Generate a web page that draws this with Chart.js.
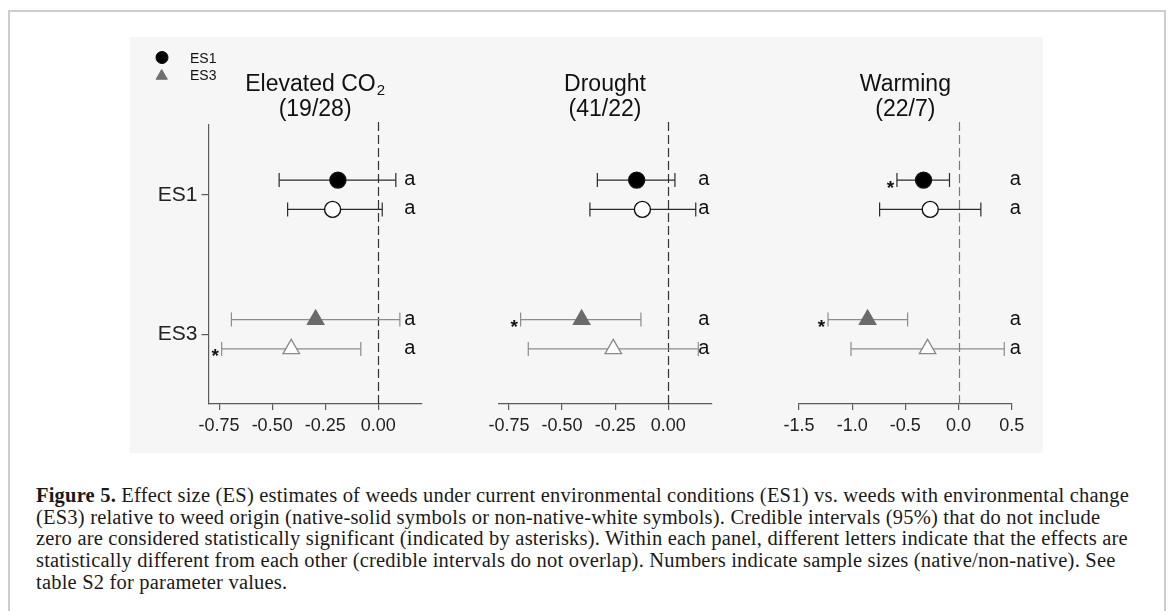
<!DOCTYPE html>
<html>
<head>
<meta charset="utf-8">
<title>Figure 5</title>
<script src="https://cdn.jsdelivr.net/npm/chart.js@4.4.0/dist/chart.umd.min.js"></script>
<style>
  html, body { margin: 0; padding: 0; background: #fff; }
  body { width: 1168px; height: 611px; position: relative; overflow: hidden; }
  #frame { position: absolute; left: 8px; top: 10px; width: 1154px; height: 640px; border: 2px solid #cdcdcd; border-bottom: none; }
  #figure { position: absolute; left: 130px; top: 37px; width: 913px; height: 416px; background: #f6f6f6; }
  canvas.panel { position: absolute; top: 37px; }
  #caption { position: absolute; left: 36px; top: 485px; font-family: 'Liberation Serif', 'Times New Roman', serif; font-size: 20.5px; letter-spacing: 0.2px; color: #1a1a1a; line-height: 21.7px; }
  #caption div { white-space: nowrap; }
</style>
</head>
<body>
<div id="frame"></div>
<div id="figure"></div>
<canvas id="p0" class="panel" width="310" height="416" style="left:130px;width:310px;height:416px"></canvas>
<canvas id="p1" class="panel" width="300" height="416" style="left:440px;width:300px;height:416px"></canvas>
<canvas id="p2" class="panel" width="303" height="416" style="left:740px;width:303px;height:416px"></canvas>
<div id="caption">
  <div><b>Figure 5.</b> Effect size (ES) estimates of weeds under current environmental conditions (ES1) vs. weeds with environmental change</div>
  <div>(ES3) relative to weed origin (native-solid symbols or non-native-white symbols). Credible intervals (95%) that do not include</div>
  <div>zero are considered statistically significant (indicated by asterisks). Within each panel, different letters indicate that the effects are</div>
  <div>statistically different from each other (credible intervals do not overlap). Numbers indicate sample sizes (native/non-native). See</div>
  <div>table S2 for parameter values.</div>
</div>
<script>
// categories on the y axis, top to bottom
const categories = ['ES1', 'ES3'];
const origins = ['native', 'non-native'];

const panelTitles = ['Elevated CO₂', 'Drought', 'Warming'];
const sampleSizes = ['(19/28)', '(41/22)', '(22/7)'];

// rows of every panel: ES1 native, ES1 non-native, ES3 native, ES3 non-native
const rowCategory = ['ES1', 'ES1', 'ES3', 'ES3'];
const rowOrigin = ['native', 'non-native', 'native', 'non-native'];

const co2Mean  = [-0.19, -0.215, -0.295, -0.41];
const co2Lower = [-0.467, -0.427, -0.692, -0.738];
const co2Upper = [0.083, 0.019, 0.102, -0.082];
const co2Letters = ['a', 'a', 'a', 'a'];

const droughtMean  = [-0.149, -0.122, -0.408, -0.259];
const droughtLower = [-0.334, -0.369, -0.695, -0.659];
const droughtUpper = [0.031, 0.129, -0.129, 0.141];
const droughtLetters = ['a', 'a', 'a', 'a'];

const warmingMean  = [-0.329, -0.266, -0.855, -0.291];
const warmingLower = [-0.579, -0.742, -1.227, -1.011];
const warmingUpper = [-0.085, 0.21, -0.479, 0.43];
const warmingLetters = ['a', 'a', 'a', 'a'];

const esTicks = [-0.75, -0.5, -0.25, 0];
const esTickLabels = ['-0.75', '-0.50', '-0.25', '0.00'];
const warmTicks = [-1.5, -1, -0.5, 0, 0.5];
const warmTickLabels = ['-1.5', '-1.0', '-0.5', '0.0', '0.5'];

const FONT = '"Liberation Sans", Arial, sans-serif';
const AXIS = '#5a5a5a';
const ROW_OFFSET = 0.105;

const panels = [
  { id: 'p0', title: panelTitles[0], n: sampleSizes[0], mean: co2Mean, lower: co2Lower, upper: co2Upper, letters: co2Letters,
    ticks: esTicks, tickLabels: esTickLabels, min: -0.8, max: 0.205, pad: { left: 0, right: 18.3 }, yAxis: true, legend: true,
    letterAt: 0.149, zeroColor: '#333' },
  { id: 'p1', title: panelTitles[1], n: sampleSizes[1], mean: droughtMean, lower: droughtLower, upper: droughtUpper, letters: droughtLetters,
    ticks: esTicks, tickLabels: esTickLabels, min: -0.8, max: 0.204, pad: { left: 58.3, right: 28.3 }, yAxis: false, legend: false,
    letterAt: 0.167, zeroColor: '#333' },
  { id: 'p2', title: panelTitles[2], n: sampleSizes[2], mean: warmingMean, lower: warmingLower, upper: warmingUpper, letters: warmingLetters,
    ticks: warmTicks, tickLabels: warmTickLabels, min: -1.5, max: 0.5, pad: { left: 59, right: 31.3 }, yAxis: false, legend: false,
    letterAt: 0.535, zeroColor: '#7a7a7a' }
];

function catValue(cat) { return categories.length - categories.indexOf(cat); }
function rowY(i) { return catValue(rowCategory[i]) + (rowOrigin[i] === origins[0] ? ROW_OFFSET : -ROW_OFFSET); }

function buildDatasets(p) {
  const ds = [];
  rowCategory.forEach((cat, i) => {
    const y = rowY(i);
    const first = cat === categories[0];
    const native = rowOrigin[i] === origins[0];
    const barColor = first ? '#2a2a2a' : '#8c8c8c';
    // credible interval with caps
    ds.push({
      data: [{ x: p.lower[i], y }, { x: p.upper[i], y }],
      showLine: true, borderColor: barColor, borderWidth: 1.2,
      pointStyle: 'line', rotation: 90, pointRadius: 7,
      pointBorderColor: barColor, pointBorderWidth: 1.2, order: 2
    });
    // estimate
    ds.push({
      data: [{ x: p.mean[i], y }],
      pointStyle: first ? 'circle' : 'triangle',
      pointRadius: first ? 8 : 9.5,
      pointBackgroundColor: native ? (first ? '#000' : '#6b6b6b') : '#fff',
      pointBorderColor: first ? '#111' : (native ? '#6b6b6b' : '#8a8a8a'),
      pointBorderWidth: first ? 1.4 : 1.3,
      order: 1
    });
  });
  return ds;
}

const decor = {
  id: 'decor',
  beforeDatasetsDraw(chart, args, o) {
    const { ctx, chartArea, scales: { x } } = chart;
    const px = Math.round(x.getPixelForValue(0)) + 0.5;
    ctx.save();
    ctx.strokeStyle = o.zeroColor;
    ctx.lineWidth = 1.2;
    ctx.setLineDash([9, 4]);
    ctx.beginPath();
    ctx.moveTo(px, chartArea.top - 3);
    ctx.lineTo(px, chartArea.bottom);
    ctx.stroke();
    ctx.restore();
  },
  afterDatasetsDraw(chart, args, o) {
    const { ctx, scales: { x, y } } = chart;
    const p = o.panel;
    ctx.save();
    ctx.fillStyle = '#111';
    ctx.textAlign = 'center';
    ctx.textBaseline = 'alphabetic';
    rowCategory.forEach((cat, i) => {
      const py = y.getPixelForValue(rowY(i));
      // asterisk where the interval excludes zero
      if (p.upper[i] < 0 || p.lower[i] > 0) {
        ctx.font = 'bold 19px ' + FONT;
        ctx.fillText('*', x.getPixelForValue(p.lower[i]) - 6.5, py + 13.5);
      }
      ctx.font = '20px ' + FONT;
      ctx.fillText(p.letters[i], x.getPixelForValue(p.letterAt), py + 5);
    });
    ctx.restore();
  },
  afterDraw(chart, args, o) {
    const { ctx, chartArea } = chart;
    const p = o.panel;
    const cx = (chartArea.left + chartArea.right) / 2;
    ctx.save();
    ctx.fillStyle = '#111';
    ctx.textBaseline = 'alphabetic';
    // title, with a subscript for CO₂
    const sub = p.title.endsWith('₂');
    const main = sub ? p.title.slice(0, -1) : p.title;
    ctx.font = '23px ' + FONT;
    const wMain = ctx.measureText(main).width;
    ctx.font = '15px ' + FONT;
    const wSub = sub ? ctx.measureText('2').width + 1 : 0;
    const x0 = cx - (wMain + wSub) / 2;
    ctx.textAlign = 'left';
    ctx.font = '23px ' + FONT;
    ctx.fillText(main, x0, 54.2);
    if (sub) {
      ctx.font = '15px ' + FONT;
      ctx.fillText('2', x0 + wMain + 1, 58);
    }
    ctx.font = '23px ' + FONT;
    ctx.textAlign = 'center';
    ctx.fillText(p.n, cx, 79.2);

    if (p.legend) {
      const H = Chart.helpers;
      ctx.fillStyle = '#000'; ctx.strokeStyle = '#000';
      H.drawPoint(ctx, { pointStyle: 'circle', radius: 6, rotation: 0, borderWidth: 1 }, 32, 20.5);
      ctx.fillStyle = '#707070'; ctx.strokeStyle = '#707070';
      H.drawPoint(ctx, { pointStyle: 'triangle', radius: 6.5, rotation: 0, borderWidth: 1 }, 31.7, 39);
      ctx.fillStyle = '#111';
      ctx.font = '14px ' + FONT;
      ctx.textAlign = 'left';
      ctx.fillText(categories[0], 60, 26);
      ctx.fillText(categories[1], 60, 43);
    }
    ctx.restore();
  }
};

panels.forEach(p => {
  new Chart(document.getElementById(p.id), {
    type: 'scatter',
    data: { datasets: buildDatasets(p) },
    options: {
      responsive: false, animation: false, events: [], devicePixelRatio: 1,
      layout: { padding: { top: 88, bottom: 0, left: p.pad.left, right: p.pad.right } },
      plugins: { legend: { display: false }, tooltip: { enabled: false }, decor: { panel: p, zeroColor: p.zeroColor } },
      scales: {
        x: {
          type: 'linear', min: p.min, max: p.max,
          afterBuildTicks: s => { s.ticks = p.ticks.map(v => ({ value: v })); },
          afterFit: s => { s.height = 49; },
          border: { color: AXIS, width: 1.2 },
          grid: { drawOnChartArea: false, drawTicks: true, tickLength: 6, color: AXIS, lineWidth: 1.2 },
          ticks: { autoSkip: false, maxRotation: 0, padding: 5, color: '#222', font: { family: FONT, size: 18 },
                   callback: v => p.tickLabels[p.ticks.indexOf(v)] }
        },
        y: {
          type: 'linear', min: 0.5, max: 2.5, display: p.yAxis,
          afterBuildTicks: s => { s.ticks = categories.map(c => ({ value: catValue(c) })); },
          afterFit: s => { s.width = p.yAxis ? 78.5 : 0; },
          border: { color: AXIS, width: 1.2 },
          grid: { drawOnChartArea: false, drawTicks: true, tickLength: 7, color: AXIS, lineWidth: 1.2 },
          ticks: { padding: 4, color: '#222', font: { family: FONT, size: 21 },
                   callback: v => categories[categories.length - v] }
        }
      }
    },
    plugins: [decor]
  });
});
</script>
</body>
</html>
